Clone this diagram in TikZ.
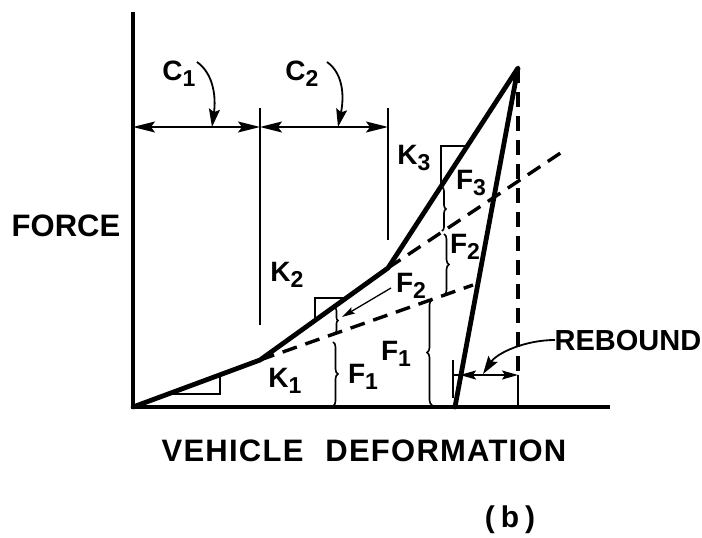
\documentclass[tikz,border=0pt]{standalone}
\usepackage{fontspec}
\setmainfont{Liberation Sans}
\usetikzlibrary{arrows.meta,decorations.pathreplacing}
\newcommand{\lsub}[1]{\raisebox{-6pt}{\fontsize{23}{23}\selectfont #1}}
\begin{document}
\begin{tikzpicture}[x=1pt,y=-1pt,
  axis/.style={line width=3.4pt},
  curve/.style={line width=4.8pt,line join=round,line cap=round},
  thinline/.style={line width=1.8pt},
  dashline/.style={line width=3.4pt,dash pattern=on 15pt off 9pt},
  dimarrow/.style={line width=1.8pt,{Stealth[length=22pt,width=11pt,inset=4pt]}-{Stealth[length=22pt,width=11pt,inset=4pt]}},
  smallarrow/.style={line width=1.8pt,{Stealth[length=16pt,width=9pt,inset=3pt]}-{Stealth[length=16pt,width=9pt,inset=3pt]}},
  leader/.style={line width=1.8pt,-{Stealth[length=18pt,width=11pt,inset=3pt]}},
  thinleader/.style={line width=1.3pt,-{Stealth[length=13pt,width=7pt,inset=2pt]}},
  lbl/.style={font=\fontsize{28}{28}\selectfont\bfseries,inner sep=0pt},
  bigtxt/.style={font=\fontsize{31}{31}\selectfont\bfseries,inner sep=0pt},
  bracepath/.style={line width=1.6pt,decorate,decoration={brace,amplitude=5pt}},
  slopetri/.style={line width=1.8pt}
]
\useasboundingbox (0,0) rectangle (702,538);
% key points
\coordinate (O) at (133,407);
\coordinate (Ytop) at (133,12);
\coordinate (Xend) at (610,407);
\coordinate (A) at (260,360);
\coordinate (B) at (388,268);
\coordinate (P) at (518,68);
\coordinate (R) at (455,407);
\coordinate (D) at (518,407);
\coordinate (Dm) at (518,375);
\coordinate (E1) at (473,285);
\coordinate (E2) at (565,150);
% axes
\draw[axis] (Ytop) -- (O) -- (Xend);
% dashed extensions
\draw[dashline] (A) -- (E1);
\draw[dashline] (B) -- (E2);
\draw[dashline] (P) -- (Dm);
\draw[line width=2.8pt] (Dm) -- (D);
% main loading / unloading curve
\draw[curve] (O) -- (A) -- (B) -- (P) -- (R);
% slope triangles
\draw[slopetri] (167,394) -- (220,394) -- (220,375);
\draw[slopetri] (315,320) -- (315,298) -- (346,298);
\draw[slopetri] (441,187) -- (441,146) -- (467,146);
% dimension lines C1, C2
\coordinate (d0) at (133,127);
\coordinate (d1) at (260,127);
\coordinate (d2) at (388,127);
\coordinate (v1t) at (260,108);
\coordinate (v1b) at (260,325);
\coordinate (v2t) at (388,108);
\coordinate (v2b) at (388,240);
\draw[thinline] (v1t) -- (v1b);
\draw[thinline] (v2t) -- (v2b);
\draw[dimarrow] (d0) -- (d1);
\draw[dimarrow] (d1) -- (d2);
% labels
\node[lbl] (c1) at (179,74) {C\lsub{1}};
\node[lbl] (c2) at (302,74) {C\lsub{2}};
\node[lbl] (k1) at (285,381) {K\lsub{1}};
\node[lbl] (k2) at (287,275) {K\lsub{2}};
\node[lbl] (k3) at (414,158) {K\lsub{3}};
\node[lbl] (f1a) at (363,377) {F\lsub{1}};
\node[lbl] (f1b) at (396,354) {F\lsub{1}};
\node[lbl] (f2a) at (411,286) {F\lsub{2}};
\node[lbl] (f2b) at (465,247) {F\lsub{2}};
\node[lbl] (f3) at (471,183) {F\lsub{3}};
% leaders for C1, C2
\coordinate (c1s) at (197,62);
\coordinate (c1e) at (212,127);
\coordinate (c2s) at (327,62);
\coordinate (c2e) at (338,127);
\draw[leader] (c1s) .. controls (214,74) and (216,98) .. (c1e);
\draw[leader] (c2s) .. controls (344,74) and (344,98) .. (c2e);
% leader to small F2 gap
\coordinate (f2s) at (391,288);
\coordinate (f2e) at (342,317);
\draw[thinleader] (f2s) -- (f2e);
% braces
\draw[bracepath] (333,342) -- (333,406);
\draw[bracepath,decoration={brace,amplitude=3pt}] (335,308) -- (335,333);
\draw[bracepath] (432,405) -- (432,300);
\draw[bracepath] (444,234) -- (444,295);
\draw[bracepath,decoration={brace,amplitude=4pt}] (442,187) -- (442,231);
% rebound
\coordinate (rt) at (453,360);
\coordinate (rb) at (453,398);
\coordinate (rl) at (453,375);
\coordinate (r1) at (460,375);
\draw[thinline] (rt) -- (rb);
\draw[thinline] (rl) -- (r1);
\draw[smallarrow] (r1) -- (Dm);
\node[inner sep=0pt,font=\fontsize{29}{29}\selectfont\bfseries] (reb) at (628,341) {REBOUND};
\coordinate (rs) at (555,340);
\coordinate (re) at (483,374);
\draw[leader] (rs) .. controls (525,340) and (497,353) .. (re);
% axis titles
\node[bigtxt] (force) at (66,226) {FORCE};
\node[bigtxt,font=\fontsize{31}{31}\selectfont\bfseries\addfontfeature{LetterSpace=4}] (vd) at (364,451) {VEHICLE\hspace{22pt}DEFORMATION};
\node[inner sep=0pt,font=\fontsize{30}{30}\selectfont\bfseries] (b) at (510,520) {(\hspace{6pt}b\hspace{6pt})};
\end{tikzpicture}
\end{document}
